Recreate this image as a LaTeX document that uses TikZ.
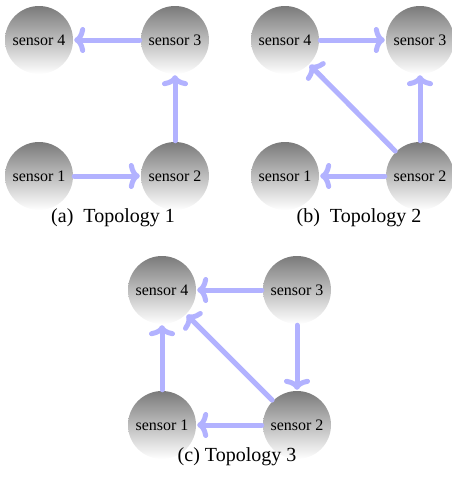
\documentclass[tikz,border=0pt]{standalone}
\usepackage{fontspec}
\setmainfont{Liberation Serif}
\usetikzlibrary{arrows.meta}
\begin{document}
\begin{tikzpicture}[x=1pt,y=-1pt,
  sensor/.style={circle,minimum size=68pt,inner sep=0pt,top color=black!52,bottom color=white,draw=none,font=\fontsize{16}{18}\selectfont},
  link/.style={draw=blue!30,line width=5pt,line cap=round,-{Computer Modern Rightarrow[length=11pt,width=26pt]},shorten <=1pt,shorten >=1pt},
  captext/.style={font=\fontsize{20}{22}\selectfont}]
\useasboundingbox (0,0) rectangle (452,485);
% (a)
\node[sensor] (a4) at (39,40) {sensor 4};
\node[sensor] (a3) at (175,40) {sensor 3};
\node[sensor] (a1) at (39,176) {sensor 1};
\node[sensor] (a2) at (175,176) {sensor 2};
\node[captext] (acap) at (113,218) {(a)\ \ Topology 1};
\draw[link] (a3) -- (a4);
\draw[link] (a2) -- (a3);
\draw[link] (a1) -- (a2);
% (b)
\node[sensor] (b4) at (285,40) {sensor 4};
\node[sensor] (b3) at (420,40) {sensor 3};
\node[sensor] (b1) at (285,176) {sensor 1};
\node[sensor] (b2) at (420,176) {sensor 2};
\node[captext] (bcap) at (359,218) {(b)\ \ Topology 2};
\draw[link] (b4) -- (b3);
\draw[link] (b2) -- (b3);
\draw[link] (b2) -- (b1);
\draw[link] (b2) -- (b4);
% (c)
\node[sensor] (c4) at (162,290) {sensor 4};
\node[sensor] (c3) at (297,290) {sensor 3};
\node[sensor] (c1) at (162,425) {sensor 1};
\node[sensor] (c2) at (297,425) {sensor 2};
\node[captext] (ccap) at (237,457) {(c)\ Topology 3};
\draw[link] (c3) -- (c4);
\draw[link] (c3) -- (c2);
\draw[link] (c2) -- (c1);
\draw[link] (c2) -- (c4);
\draw[link] (c1) -- (c4);
\end{tikzpicture}
\end{document}
